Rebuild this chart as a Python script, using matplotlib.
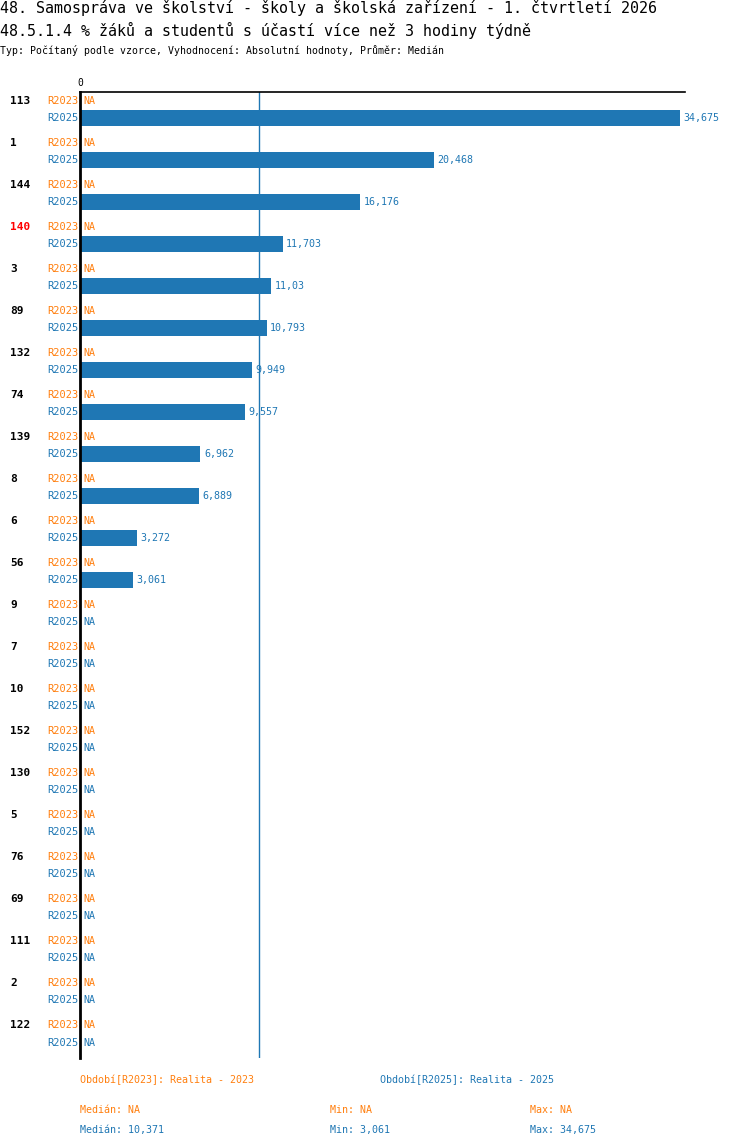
import numpy as np
import matplotlib.pyplot as plt
from matplotlib.transforms import blended_transform_factory

# data
groups = ['113', '1', '144', '140', '3', '89', '132', '74', '139', '8', '6', '56',
          '9', '7', '10', '152', '130', '5', '76', '69', '111', '2', '122']
r2023 = [None] * len(groups)
r2025 = [34.675, 20.468, 16.176, 11.703, 11.03, 10.793, 9.949, 9.557, 6.962, 6.889,
         3.272, 3.061] + [None] * 11
highlight = '140'

title1 = "48. Samospráva ve školství - školy a školská zařízení - 1. čtvrtletí 2026"
title2 = "48.5.1.4 % žáků a studentů s účastí více než 3 hodiny týdně"
subtitle = "Typ: Počítaný podle vzorce, Vyhodnocení: Absolutní hodnoty, Průměr: Medián"

ORANGE = '#ff7f0e'
BLUE = '#1f77b4'
MONO = ['DejaVu Sans Mono']


def fmt(v):
    if v is None:
        return 'NA'
    return f"{v:g}".replace('.', ',')


vals = [v for v in r2025 if v is not None]
med = np.median(vals)

W, H = 750, 1148
fig = plt.figure(figsize=(W / 100, H / 100), dpi=100)

# axes: x 80..685 px, y 92..1058 px
ax = fig.add_axes([80 / W, 1 - 1058 / H, 605 / W, (1058 - 92) / H])
n = len(groups)
off = 0.2025  # row offset in group units
ax.set_ylim(n - 1 + 0.571, -0.417)
ax.set_xlim(0, max(vals) * 605 / 600)

y = np.arange(n)
v25 = [v if v is not None else 0 for v in r2025]
ax.barh(y + off, v25, height=0.38, color=BLUE)

ax.axvline(med, color=BLUE, lw=1)

for s in ['right', 'bottom']:
    ax.spines[s].set_visible(False)
ax.spines['left'].set_linewidth(2)
ax.spines['left'].set_color('black')
ax.spines['top'].set_linewidth(1.2)
ax.spines['top'].set_color('black')
ax.set_xticks([])
ax.set_yticks([])

tr = blended_transform_factory(fig.transFigure, ax.transData)
for i, g in enumerate(groups):
    ax.text(10 / W, i - off, g, transform=tr, ha='left', va='center',
            fontsize=8, fontweight='bold', family=MONO,
            color='red' if g == highlight else 'black')
    ax.text(78 / W, i - off, 'R2023', transform=tr, ha='right', va='center',
            fontsize=7.5, family=MONO, color=ORANGE)
    ax.text(78 / W, i + off, 'R2025', transform=tr, ha='right', va='center',
            fontsize=7.5, family=MONO, color=BLUE)
    # values
    a = r2023[i]
    ax.annotate(fmt(a), (a if a is not None else 0, i - off), xytext=(2.5, 0),
                textcoords='offset points', ha='left', va='center',
                fontsize=7.2, family=MONO, color=ORANGE)
    b = r2025[i]
    ax.annotate(fmt(b), (b if b is not None else 0, i + off), xytext=(2.5, 0),
                textcoords='offset points', ha='left', va='center',
                fontsize=7.2, family=MONO, color=BLUE)

ax.text(0, 1.004, '0', transform=blended_transform_factory(ax.transData, ax.transAxes),
        ha='center', va='bottom', fontsize=7, family=MONO)

# titles
fig.text(0, 1 - 8 / H, title1, ha='left', va='center', fontsize=10.85, family=MONO)
fig.text(0, 1 - 30 / H, title2, ha='left', va='center', fontsize=10.85, family=MONO)
fig.text(0, 1 - 50 / H, subtitle, ha='left', va='center', fontsize=7.15, family=MONO)

# legend / stats
v23 = [v for v in r2023 if v is not None]


def stat(f, lst):
    return fmt(f(lst)) if lst else 'NA'


fs = 7.2
fig.text(80 / W, 1 - 1080 / H, 'Období[R2023]: Realita - 2023', fontsize=fs,
         family=MONO, color=ORANGE, va='center')
fig.text(380 / W, 1 - 1080 / H, 'Období[R2025]: Realita - 2025', fontsize=fs,
         family=MONO, color=BLUE, va='center')
for yy, lst, c in [(1110, v23, ORANGE), (1130, vals, BLUE)]:
    fig.text(80 / W, 1 - yy / H, 'Medián: ' + stat(np.median, lst), fontsize=fs,
             family=MONO, color=c, va='center')
    fig.text(330 / W, 1 - yy / H, 'Min: ' + stat(min, lst), fontsize=fs,
             family=MONO, color=c, va='center')
    fig.text(530 / W, 1 - yy / H, 'Max: ' + stat(max, lst), fontsize=fs,
             family=MONO, color=c, va='center')

fig.savefig('out.png', dpi=100)
